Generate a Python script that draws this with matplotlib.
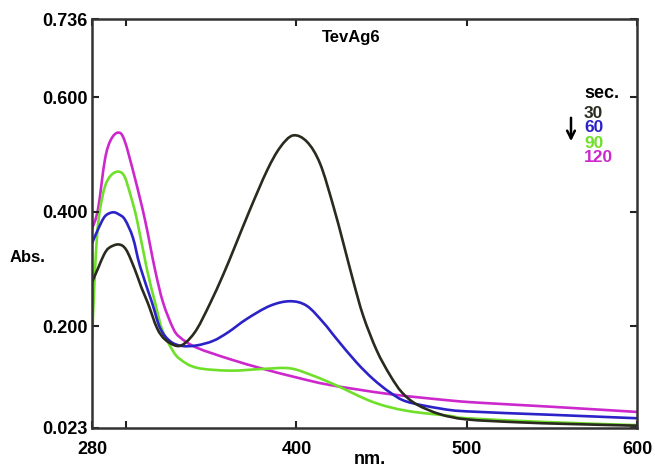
import numpy as np
import matplotlib
matplotlib.use('Agg')
import matplotlib.pyplot as plt
from matplotlib.path import Path
from matplotlib.patches import PathPatch

plt.rcParams['font.family'] = ['Liberation Sans', 'DejaVu Sans']
plt.rcParams['font.weight'] = 'bold'

# Spectra (wavelength nm, absorbance)
wl_30 = [280, 283.5, 287, 290, 295.5, 300, 305.2, 309, 312.9, 318.2, 323, 329.9, 335,
         341.5, 349.3, 357, 364, 372.8, 382.8, 390.4, 398, 406.2, 413.9, 421.5, 427.6,
         433.5, 439.3, 447.2, 455, 462, 470.7, 484.4, 500, 530, 560, 600]
abs_30 = [0.277, 0.301, 0.325, 0.337, 0.343, 0.334, 0.299, 0.268, 0.240, 0.197, 0.177, 0.166, 0.172,
          0.195, 0.240, 0.290, 0.340, 0.404, 0.472, 0.512, 0.533, 0.522, 0.484, 0.412, 0.345,
          0.278, 0.218, 0.158, 0.115, 0.085, 0.064, 0.047, 0.038, 0.033, 0.030, 0.027]

wl_60 = [280, 283.5, 287.6, 292.3, 296, 299.4, 304, 308.2, 315.2, 320, 326, 333, 341.5,
         351.2, 360, 370.8, 384.5, 396.3, 406.1, 415.8, 423.7, 435.4, 445.2, 455, 464.8,
         484.4, 500, 550, 600]
abs_60 = [0.345, 0.369, 0.392, 0.399, 0.395, 0.386, 0.355, 0.305, 0.242, 0.197, 0.174, 0.166, 0.167,
          0.175, 0.190, 0.213, 0.236, 0.244, 0.236, 0.207, 0.178, 0.137, 0.108, 0.085, 0.069,
          0.057, 0.052, 0.046, 0.040]

wl_90 = [280, 281.5, 283, 284.7, 287.6, 291, 295.3, 299, 302.5, 306.4, 312.3, 317, 321.1,
         327, 331.7, 341.5, 361, 380.6, 396.3, 410, 423.7, 445.2, 464.8, 490.2, 500, 550, 600]
abs_90 = [0.175, 0.280, 0.360, 0.404, 0.444, 0.463, 0.470, 0.462, 0.430, 0.386, 0.299, 0.242, 0.195,
          0.160, 0.143, 0.128, 0.123, 0.126, 0.127, 0.114, 0.097, 0.068, 0.053, 0.044, 0.040, 0.033, 0.028]

wl_120 = [280, 283.5, 287.6, 291, 295.3, 299, 305, 311.1, 317, 321.7, 327.6, 331.7, 341.5,
          361, 380.6, 400.2, 419.7, 455, 490.2, 507.8, 550, 600]
abs_120 = [0.370, 0.404, 0.491, 0.525, 0.538, 0.525, 0.461, 0.386, 0.299, 0.242, 0.197, 0.181, 0.163,
           0.143, 0.126, 0.111, 0.098, 0.082, 0.071, 0.067, 0.060, 0.051]

times = ['30', '60', '90', '120']
colors = ['#2a2a1e', '#2b22c8', '#6fe02a', '#cc28cc']
series = [(wl_30, abs_30), (wl_60, abs_60), (wl_90, abs_90), (wl_120, abs_120)]


def smooth_path(x, y):
    # Catmull-Rom through the read points, drawn as cubic Bezier segments
    p = np.column_stack([x, y]).astype(float)
    ext = np.vstack([p[0], p, p[-1]])
    verts = [p[0]]
    codes = [Path.MOVETO]
    for i in range(len(p) - 1):
        p0, p1, p2, p3 = ext[i], ext[i + 1], ext[i + 2], ext[i + 3]
        c1 = p1 + (p2 - p0) / 6.0
        c2 = p2 - (p3 - p1) / 6.0
        verts += [c1, c2, p2]
        codes += [Path.CURVE4] * 3
    return Path(verts, codes)


fig = plt.figure(figsize=(6.55, 4.68), dpi=100)
ax = fig.add_axes([92 / 655, 40 / 468, 545 / 655, 409 / 468])

# draw later times first so the 30 s curve sits on top
for (x, y), c in reversed(list(zip(series, colors))):
    ax.add_patch(PathPatch(smooth_path(x, y), facecolor='none', edgecolor=c,
                           linewidth=1.9, capstyle='round', joinstyle='round'))

ax.set_xlim(280, 600)
ax.set_ylim(0.023, 0.736)

ax.set_xticks([280, 300, 400, 500, 600])
ax.set_xticklabels(['280', '', '400', '500', '600'])
ax.set_yticks([0.023, 0.2, 0.4, 0.6, 0.736])
ax.set_yticklabels(['0.023', '0.200', '0.400', '0.600', '0.736'])
ax.tick_params(axis='both', direction='in', length=5, width=1.5, colors='#222222',
               labelsize=13, top=True, right=True)
ax.tick_params(axis='x', pad=9)
ax.tick_params(axis='y', pad=3)
for lab in ax.get_xticklabels() + ax.get_yticklabels():
    lab.set_fontweight('bold')
    lab.set_color('black')

for side in ['left', 'bottom', 'right', 'top']:
    ax.spines[side].set_color('#333333')
    ax.spines[side].set_linewidth(1.8)

ax.text(0.475, 0.955, 'TevAg6', transform=ax.transAxes, ha='center', va='center',
        fontsize=12, fontweight='bold')

fig.text(10 / 655, 1 - 258 / 468, 'Abs.', ha='left', va='center', fontsize=12, fontweight='bold')
fig.text(370 / 655, 1 - 460 / 468, 'nm.', ha='center', va='center', fontsize=13, fontweight='bold')

# legend block: "sec." and coloured times
lx = 584 / 655
fig.text(lx, 1 - 93 / 468, 'sec.', ha='left', va='center', fontsize=13, fontweight='bold')
for i, (t, c) in enumerate(zip(times, colors)):
    fig.text(lx, 1 - (113 + 15 * i) / 468, t, ha='left', va='center', fontsize=12.5,
             fontweight='bold', color=c)
ax.annotate('', xy=(571 / 655, 1 - 144 / 468), xytext=(571 / 655, 1 - 115 / 468),
            xycoords='figure fraction', textcoords='figure fraction',
            arrowprops=dict(arrowstyle='->', color='black', lw=1.8, mutation_scale=14))

plt.savefig('out.png', dpi=100)
